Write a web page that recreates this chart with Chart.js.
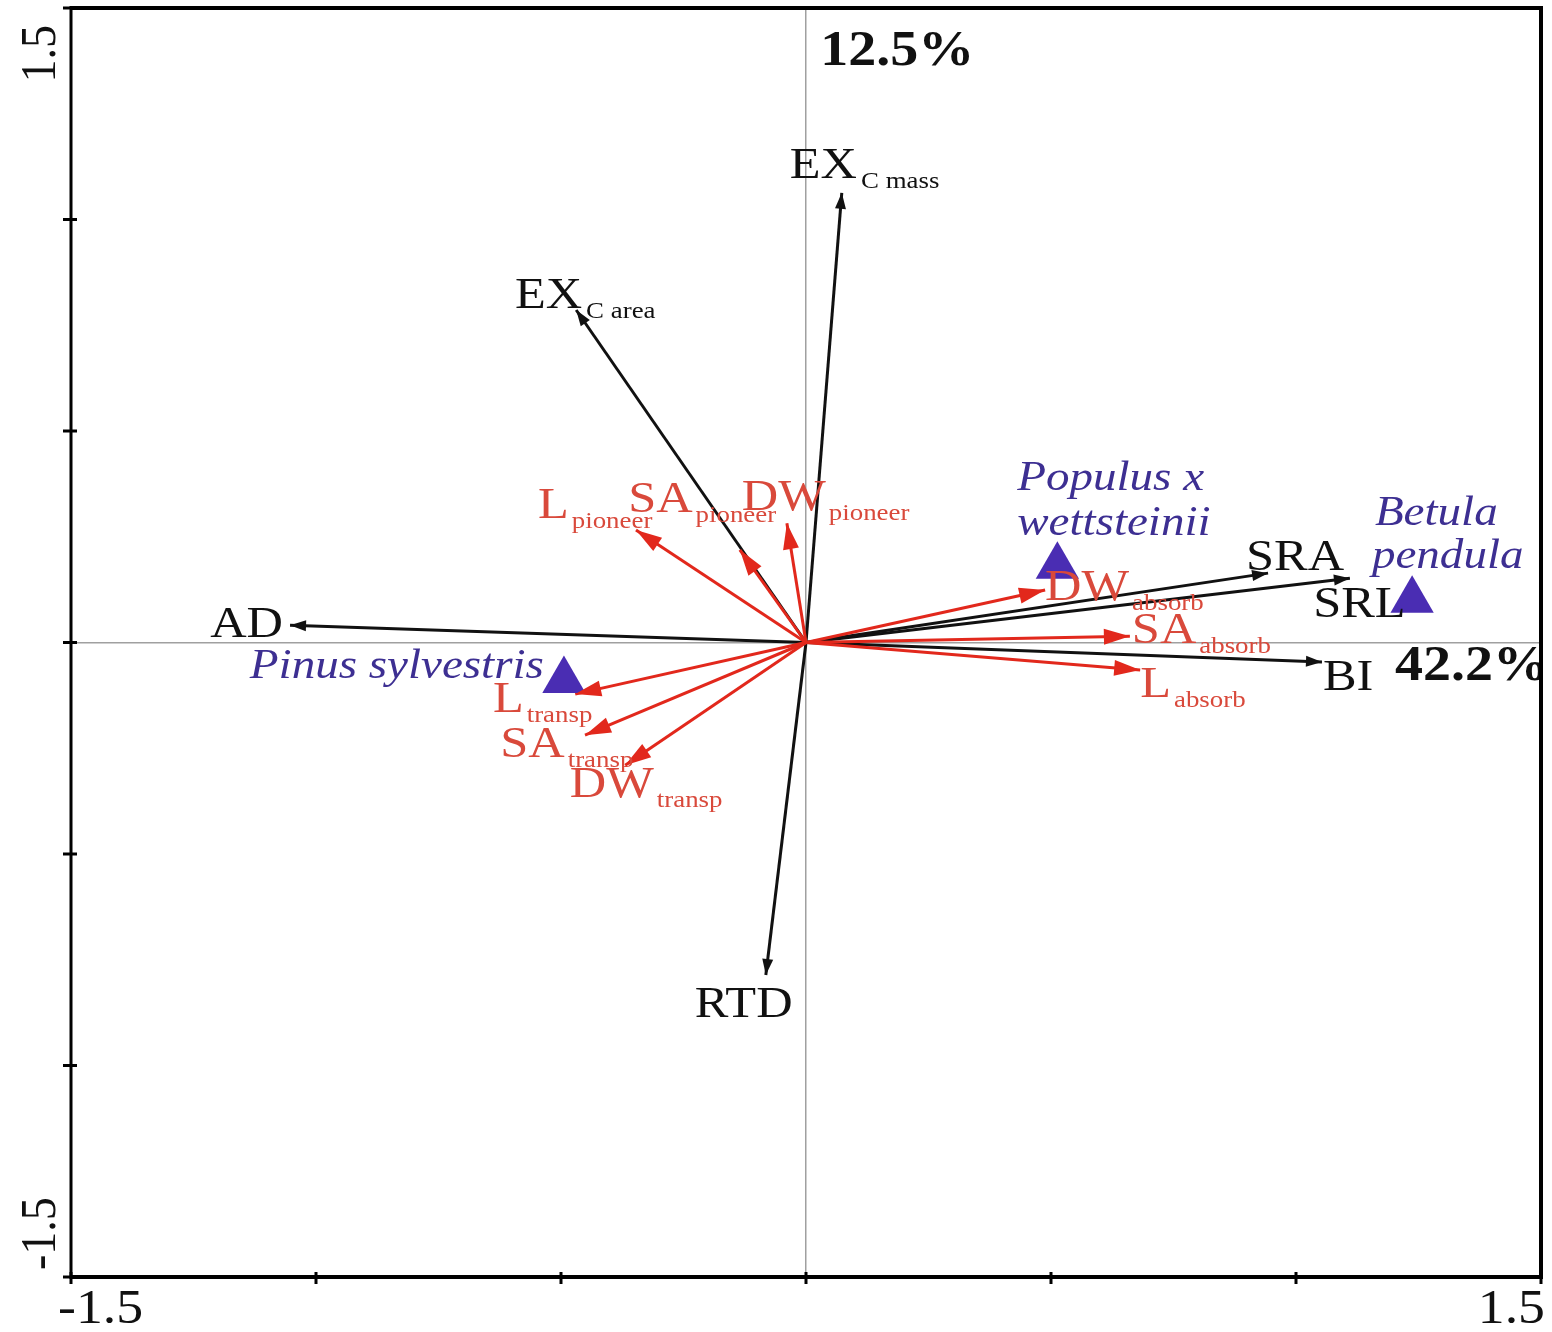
<!DOCTYPE html>
<html><head><meta charset="utf-8">
<script src="https://cdn.jsdelivr.net/npm/chart.js@4.4.1/dist/chart.umd.min.js"></script>
<style>html,body{margin:0;padding:0;background:#fff;}#wrap{width:1552px;height:1332px;}</style>
</head><body><div id="wrap"><canvas id="c" width="1552" height="1332"></canvas></div>
<script>
// ---- data ----
const traitMain = ['EX','EX','AD','RTD','SRA','SRL','BI'];
const traitSub  = ['C mass','C area','','','','',''];
const traitX = [0.073,-0.469,-1.053,-0.082,0.943,1.110,1.053];
const traitY = [1.063,0.786,0.041,-0.786,0.164,0.152,-0.046];

const rootMain = ['L','SA','DW','DW','SA','L','L','SA','DW'];
const rootSub  = ['pioneer','pioneer','pioneer','absorb','absorb','absorb','transp','transp','transp'];
const rootX = [-0.347,-0.135,-0.039,0.488,0.661,0.682,-0.471,-0.451,-0.369];
const rootY = [0.266,0.219,0.282,0.124,0.015,-0.065,-0.122,-0.219,-0.290];

const speciesNames = ['Pinus sylvestris','Populus x wettsteinii','Betula pendula'];
const speciesX = [-0.494,0.513,1.237];
const speciesY = [-0.090,0.180,0.100];

const axisPercent = ['42.2%','12.5%'];
const xTickLabels = ['-1.5','1.5'];
const yTickLabels = ['-1.5','1.5'];

// ---- label placement (data units, left/baseline anchor) ----
const traitLabelPos = [[-0.033,1.098],[-0.594,0.791],[-1.216,0.013],[-0.227,-0.885],[0.898,0.171],[1.035,0.060],[1.055,-0.112]];
const rootLabelPos = [[-0.547,0.294],[-0.363,0.309],[-0.131,0.313],[0.488,0.100],[0.665,-0.001],[0.682,-0.129],[-0.639,-0.164],[-0.624,-0.271],[-0.482,-0.365]];
const speciesLabelLines = [['Pinus sylvestris'],['Populus x','wettsteinii'],['Betula','pendula']];
const speciesLabelPos = [[[-1.135,-0.084]],[[0.431,0.361],[0.431,0.254]],[[1.161,0.278],[1.155,0.176]]];
const percentPos = [[1.202,-0.089],[0.029,1.365]];

const SX = 1.12;
const SERIF = '"Liberation Serif","DejaVu Serif",serif';
const BLACK = '#111111', RED = '#e2281c', RED_TXT = '#d9493b', PURPLE = '#4a2db3', PURPLE_TXT = '#3d2f92';

function txt(ctx, s, x, y, font, color, align){
  ctx.save();
  ctx.font = font; ctx.fillStyle = color; ctx.textBaseline = 'alphabetic'; ctx.textAlign = align || 'left';
  ctx.translate(x, y); ctx.scale(SX, 1); ctx.fillText(s, 0, 0);
  const w = ctx.measureText(s).width * SX;
  ctx.restore();
  return w;
}

function arrowHead(ctx, x0, y0, x1, y1, len, half, color){
  const a = Math.atan2(y1 - y0, x1 - x0);
  ctx.save(); ctx.fillStyle = color; ctx.beginPath();
  ctx.moveTo(x1, y1);
  ctx.lineTo(x1 - len*Math.cos(a) + half*Math.sin(a), y1 - len*Math.sin(a) - half*Math.cos(a));
  ctx.lineTo(x1 - len*Math.cos(a) - half*Math.sin(a), y1 - len*Math.sin(a) + half*Math.cos(a));
  ctx.closePath(); ctx.fill(); ctx.restore();
}

const overlay = {
  id: 'overlay',
  afterDatasetsDraw(chart){
    const ctx = chart.ctx, xs = chart.scales.x, ys = chart.scales.y;
    const X = v => xs.getPixelForValue(v), Y = v => ys.getPixelForValue(v);
    const ox = X(0), oy = Y(0);
    traitX.forEach((v,i)=>arrowHead(ctx, ox, oy, X(v), Y(traitY[i]), 16, 5.5, BLACK));
    rootX.forEach((v,i)=>arrowHead(ctx, ox, oy, X(v), Y(rootY[i]), 26, 8, RED));
    const big = '45px ' + SERIF, small = '24px ' + SERIF;
    traitMain.forEach((m,i)=>{
      const [lx,ly] = traitLabelPos[i];
      const w = txt(ctx, m, X(lx), Y(ly), big, BLACK);
      if (traitSub[i]) txt(ctx, traitSub[i], X(lx)+w+4, Y(ly)+10, small, BLACK);
    });
    rootMain.forEach((m,i)=>{
      const [lx,ly] = rootLabelPos[i];
      const w = txt(ctx, m, X(lx), Y(ly), big, RED_TXT);
      txt(ctx, rootSub[i], X(lx)+w+3, Y(ly)+10, small, RED_TXT);
    });
    speciesLabelLines.forEach((lines,i)=>{
      lines.forEach((s,j)=>{
        const [lx,ly] = speciesLabelPos[i][j];
        txt(ctx, s, X(lx), Y(ly), 'italic 42px ' + SERIF, PURPLE_TXT);
      });
    });
    axisPercent.forEach((s,i)=>{
      const [lx,ly] = percentPos[i];
      txt(ctx, s, X(lx), Y(ly), 'bold 50px ' + SERIF, BLACK);
    });
  },
  afterDraw(chart){
    const ctx = chart.ctx, xs = chart.scales.x, ys = chart.scales.y, a = chart.chartArea;
    ctx.save();
    ctx.fillStyle = '#fff';
    ctx.fillRect(a.right+2, 0, chart.width - a.right, chart.height);
    ctx.strokeStyle = '#000';
    ctx.lineWidth = 4;
    ctx.beginPath(); ctx.moveTo(a.left, a.top); ctx.lineTo(a.right+2, a.top); ctx.stroke();
    ctx.beginPath(); ctx.moveTo(a.right, a.top); ctx.lineTo(a.right, a.bottom); ctx.stroke();
    ctx.beginPath(); ctx.moveTo(a.left, a.bottom); ctx.lineTo(a.right+2, a.bottom); ctx.stroke();
    ctx.lineWidth = 3;
    ctx.beginPath(); ctx.moveTo(a.left, a.top-2); ctx.lineTo(a.left, a.bottom+2); ctx.stroke();
    xs.ticks.forEach(t=>{ const px = xs.getPixelForValue(t.value);
      ctx.beginPath(); ctx.moveTo(px, a.bottom-5); ctx.lineTo(px, a.bottom+7); ctx.stroke(); });
    ys.ticks.forEach(t=>{ const py = ys.getPixelForValue(t.value);
      ctx.beginPath(); ctx.moveTo(a.left-8, py); ctx.lineTo(a.left+6, py); ctx.stroke(); });
    ctx.restore();
    const tf = '48px ' + SERIF;
    xTickLabels.forEach((s,i)=>{
      const v = parseFloat(s), px = xs.getPixelForValue(v);
      if (i === 0) txt(ctx, s, px-13, a.bottom+46, tf, BLACK, 'left');
      else txt(ctx, s, px+4, a.bottom+46, tf, BLACK, 'right');
    });
    yTickLabels.forEach((s,i)=>{
      const v = parseFloat(s), py = ys.getPixelForValue(v);
      ctx.save(); ctx.font = '46px ' + SERIF; ctx.fillStyle = BLACK; ctx.textBaseline = 'alphabetic';
      ctx.translate(55, i === 0 ? py-7 : py+17); ctx.scale(SX,1); ctx.rotate(-Math.PI/2);
      ctx.textAlign = i === 0 ? 'left' : 'right';
      ctx.fillText(s, 0, 0); ctx.restore();
    });
  }
};

const datasets = [];
speciesNames.forEach((n,i)=>datasets.push({
  label: n, data: [{x: speciesX[i], y: speciesY[i]}],
  pointStyle: 'triangle', pointRadius: 25, backgroundColor: PURPLE, borderWidth: 0, order: 0
}));
rootMain.forEach((m,i)=>datasets.push({
  label: m + ' ' + rootSub[i], data: [{x:0,y:0},{x: rootX[i], y: rootY[i]}],
  showLine: true, borderColor: RED, borderWidth: 3, pointRadius: 0, order: 1
}));
traitMain.forEach((m,i)=>datasets.push({
  label: m + traitSub[i], data: [{x:0,y:0},{x: traitX[i], y: traitY[i]}],
  showLine: true, borderColor: BLACK, borderWidth: 3, pointRadius: 0, order: 2
}));

const gridOpts = {
  color: c => (c.tick && c.tick.value === 0) ? '#a0a0a0' : 'rgba(0,0,0,0)',
  lineWidth: 1.5, drawTicks: false
};

new Chart(document.getElementById('c'), {
  type: 'scatter',
  data: { datasets },
  plugins: [overlay],
  options: {
    responsive: false, animation: false,
    layout: { autoPadding: false, padding: { top: 8, right: 11, left: 0, bottom: 0 } },
    plugins: { legend: { display: false }, tooltip: { enabled: false } },
    scales: {
      x: { type: 'linear', min: -1.5, max: 1.5, ticks: { stepSize: 0.5, display: false },
           grid: gridOpts, border: { display: false },
           afterFit: s => { s.height = 55; } },
      y: { type: 'linear', min: -1.5, max: 1.5, ticks: { stepSize: 0.5, display: false },
           grid: gridOpts, border: { display: false },
           afterFit: s => { s.width = 71; } }
    }
  }
});
</script></body></html>
